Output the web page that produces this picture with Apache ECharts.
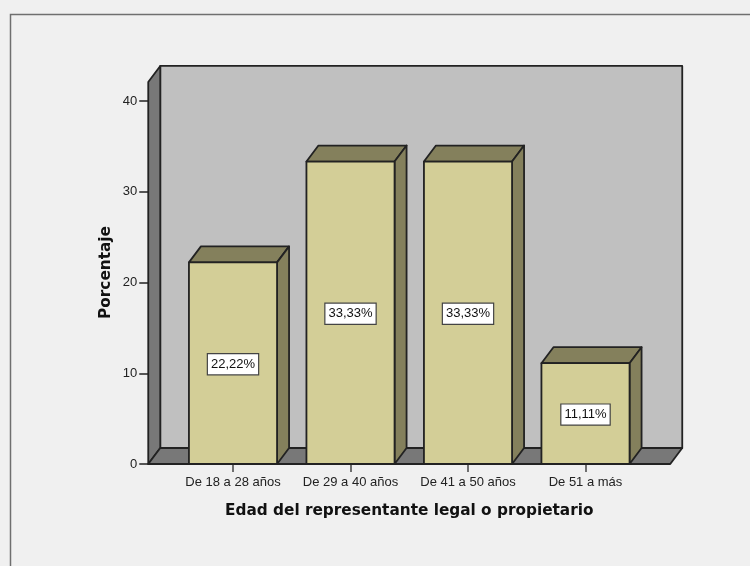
<!DOCTYPE html>
<html><head><meta charset="utf-8">
<style>html,body{margin:0;padding:0;background:#f0f0f0}#c{width:750px;height:566px}</style>
<script src="https://cdn.jsdelivr.net/npm/echarts@6/dist/echarts.min.js"></script></head>
<body><div id="c"></div>
<script>
const categories = ['De 18 a 28 años','De 29 a 40 años','De 41 a 50 años','De 51 a más'];
const percentages = [22.22,33.33,33.33,11.11];
const valueLabels = ['22,22%','33,33%','33,33%','11,11%'];
const yTicks = {min:0,max:40,interval:10};
const wallTopValue = 42.1;

const DX=12, DY=16, INSET=26;
const LINE='#222222', FRONT='#d3ce97', SHADE='#84805c', WALL='#c0c0c0', WALLDARK='#787878';
const chart = echarts.init(document.getElementById('c'),null,{renderer:'canvas'});

function poly(points,fill,z2){return {type:'polygon',shape:{points},z2,
  style:{fill,stroke:LINE,lineWidth:1.8,lineJoin:'round'}};}

function renderWalls(params,api){
  const cs=params.coordSys;
  const l=cs.x-INSET, r=cs.x+cs.width+INSET;
  const b=api.coord([0,0])[1], t=api.coord([0,wallTopValue])[1];
  return {type:'group',children:[
    poly([[l+DX,t-DY],[r+DX,t-DY],[r+DX,b-DY],[l+DX,b-DY]],WALL,1),
    poly([[l,t],[l+DX,t-DY],[l+DX,b-DY],[l,b]],WALLDARK,2),
    poly([[l,b],[l+DX,b-DY],[r+DX,b-DY],[r,b]],WALLDARK,2)
  ]};
}
function renderBar(params,api){
  const c=api.value(0), v=api.value(1), i=params.dataIndex;
  const w=api.size([1,0])[0]*0.75;
  const p=api.coord([c,v]), b=api.coord([c,0]);
  const l=p[0]-w/2, r=p[0]+w/2, t=p[1], bt=b[1];
  return {type:'group',children:[
    poly([[l,t],[l+DX,t-DY],[r+DX,t-DY],[r,t]],SHADE,3),
    poly([[r,t],[r+DX,t-DY],[r+DX,bt-DY],[r,bt]],SHADE,3),
    poly([[l,t],[r,t],[r,bt],[l,bt]],FRONT,4),
    {type:'text',z2:6,x:p[0],y:(t+bt)/2+1,style:{
      text:valueLabels[i],align:'center',verticalAlign:'middle',
      fontFamily:'"Liberation Sans",Arial,sans-serif',fontSize:13,fill:'#111',
      backgroundColor:'#fff',borderColor:'#444',borderWidth:1.2,padding:[4,3,3,3]}}
  ]};
}
chart.setOption({
  animation:false,
  backgroundColor:'#f0f0f0',
  graphic:[{type:'polyline',silent:true,z:-1,shape:{points:[[10.5,566],[10.5,14.5],[750,14.5]]},
    style:{fill:'none',stroke:'#6f6f6f',lineWidth:1.5}}],
  grid:{left:174.25,width:470,top:101,height:363},
  xAxis:{type:'category',data:categories,
    name:'Edad del representante legal o propietario',nameLocation:'middle',nameGap:40,
    nameTextStyle:{fontFamily:'"DejaVu Sans",sans-serif',fontWeight:'bold',fontSize:15.3,color:'#111'},
    axisLine:{show:false},
    axisTick:{show:true,alignWithLabel:true,length:8,lineStyle:{color:'#444',width:1.5}},
    axisLabel:{margin:12,interval:0,fontFamily:'"Liberation Sans",Arial,sans-serif',fontSize:13,color:'#222'}},
  yAxis:{type:'value',min:yTicks.min,max:yTicks.max,interval:yTicks.interval,offset:26,
    name:'Porcentaje',nameLocation:'middle',nameGap:35,nameMoveOverlap:false,
    nameTextStyle:{fontFamily:'"DejaVu Sans",sans-serif',fontWeight:'bold',fontSize:15.3,color:'#111',padding:[0,0,0,20]},
    axisLine:{show:false},splitLine:{show:false},
    axisTick:{show:true,length:9,lineStyle:{color:'#222',width:1.5}},
    axisLabel:{margin:11,padding:[5,0,0,0],fontFamily:'"Liberation Sans",Arial,sans-serif',fontSize:13,color:'#222'}},
  series:[
    {type:'custom',silent:true,z:1,renderItem:renderWalls,data:[[0,0]],encode:{x:0,y:1}},
    {type:'custom',silent:true,z:2,renderItem:renderBar,
      data:percentages.map((v,i)=>[i,v]),encode:{x:0,y:1}}
  ]
});
</script></body></html>
